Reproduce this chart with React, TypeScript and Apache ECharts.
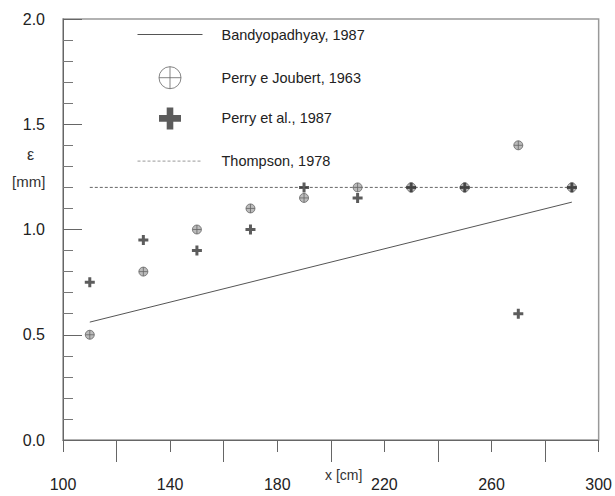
import React, { useEffect, useRef } from 'react';
import * as echarts from 'echarts';

const xPositions = [110, 130, 150, 170, 190, 210, 230, 250, 270, 290];
const perryJoubert1963 = [0.5, 0.8, 1.0, 1.1, 1.15, 1.2, 1.2, 1.2, 1.4, 1.2];
const perryEtAl1987 = [0.75, 0.95, 0.9, 1.0, 1.2, 1.15, 1.2, 1.2, 0.6, 1.2];
const bandyopadhyayX = [110, 290];
const bandyopadhyayY = [0.56, 1.13];
const thompsonX = [110, 290];
const thompsonY = [1.2, 1.2];
const xTickLabels = [100, 140, 180, 220, 260, 300];
const xTickSlots = ['100', '120', '140', '160', '180', '200', '220', '240', '260', '280', '300'];

const NAMES = ['Bandyopadhyay, 1987', 'Perry e Joubert, 1963', 'Perry et al., 1987', 'Thompson, 1978'];

const circleCross = 'path://M10,0 A10,10 0 1,0 10,20 A10,10 0 1,0 10,0 Z M10,0 L10,20 M0,10 L20,10';
const plus = 'path://M3.5,0 L6.5,0 L6.5,3.5 L10,3.5 L10,6.5 L6.5,6.5 L6.5,10 L3.5,10 L3.5,6.5 L0,6.5 L0,3.5 L3.5,3.5 Z';
const lineIcon = 'path://M0,0 M0,11 L65,11 M65,22';

const FONT = '"Liberation Sans", Arial, Helvetica, sans-serif';

export default function App() {
  const ref = useRef<HTMLDivElement>(null);
  useEffect(() => {
    if (!ref.current) return;
    const chart = echarts.init(ref.current, undefined, { renderer: 'svg' });
    const zip = (xs: number[], ys: number[]) => xs.map((x, i) => [x, ys[i]]);
    chart.setOption({
      animation: false,
      backgroundColor: '#fff',
      grid: {
        left: 63, right: 16, top: 19, bottom: 56,
        show: true, borderColor: '#999', borderWidth: 1.5,
      },
      legend: {
        orient: 'vertical',
        left: 130,
        top: 16,
        itemWidth: 65,
        itemHeight: 22,
        itemGap: 18.2,
        selectedMode: false,
        textStyle: { fontSize: 14.5, fontFamily: FONT, color: '#222', padding: [0, 0, 0, 14] },
        data: [
          { name: NAMES[0], icon: lineIcon, itemStyle: { color: 'none', borderColor: '#555', borderWidth: 1 } },
          { name: NAMES[1], itemStyle: { color: '#fff', borderColor: '#666', borderWidth: 1 } },
          { name: NAMES[2], itemStyle: { color: '#333' } },
          { name: NAMES[3], icon: lineIcon, itemStyle: { color: 'none', borderColor: '#999', borderWidth: 1, borderType: [3, 2] } },
        ],
      },
      xAxis: [
        {
          type: 'value',
          min: 100, max: 300, interval: 20,
          axisLine: { lineStyle: { color: '#666', width: 1 } },
          axisTick: { show: true, inside: false, length: 12, lineStyle: { color: '#666' } },
          splitLine: { show: false },
          axisLabel: {
            margin: 36,
            fontSize: 16, fontFamily: FONT, color: '#222',
            formatter: (v: number) => (xTickLabels.includes(v) ? String(v) : ''),
          },
        },
        {
          type: 'category',
          position: 'bottom',
          boundaryGap: false,
          data: xTickSlots,
          axisLine: { show: false },
          axisTick: { show: true, inside: false, length: 22, interval: (i: number) => i % 2 === 1, lineStyle: { color: '#666' } },
          axisLabel: { show: false },
          splitLine: { show: false },
        },
      ],
      yAxis: {
        type: 'value',
        min: 0, max: 2, interval: 0.5,
        axisLine: { show: true, lineStyle: { color: '#666', width: 1 } },
        axisTick: { show: true, inside: true, length: 19, lineStyle: { color: '#666' } },
        minorTick: { show: true, splitNumber: 5, length: 10, lineStyle: { color: '#777' } },
        splitLine: { show: false },
        axisLabel: {
          margin: 18,
          fontSize: 16, fontFamily: FONT, color: '#222',
          formatter: (v: number) => v.toFixed(1),
        },
      },
      graphic: [
        { type: 'text', left: 27, top: 146, style: { text: 'ε', fontSize: 16, fontFamily: FONT, fill: '#333' } },
        { type: 'text', left: 12, top: 174, style: { text: '[mm]', fontSize: 15, fontFamily: FONT, fill: '#333' } },
        { type: 'text', left: 325, top: 468, style: { text: 'x [cm]', fontSize: 14, fontFamily: FONT, fill: '#333' } },
      ],
      series: [
        {
          name: NAMES[0], type: 'line', symbol: 'none',
          data: zip(bandyopadhyayX, bandyopadhyayY),
          lineStyle: { color: '#555', width: 1 },
          itemStyle: { color: '#555' },
          z: 2,
        },
        {
          name: NAMES[3], type: 'line', symbol: 'none',
          data: zip(thompsonX, thompsonY),
          lineStyle: { color: '#666', width: 1, type: [3, 2] },
          itemStyle: { color: '#666' },
          z: 2,
        },
        {
          name: NAMES[1], type: 'scatter', symbol: circleCross, symbolSize: 9,
          data: zip(xPositions, perryJoubert1963),
          itemStyle: { color: '#aaa', borderColor: '#666', borderWidth: 1 },
          z: 3,
        },
        {
          name: NAMES[2], type: 'scatter', symbol: plus, symbolSize: 10,
          data: zip(xPositions, perryEtAl1987),
          itemStyle: { color: '#333' },
          z: 4,
        },
      ],
    });
    return () => chart.dispose();
  }, []);
  return <div ref={ref} style={{ position: 'fixed', left: 0, top: 0, width: 615, height: 496 }} />;
}
